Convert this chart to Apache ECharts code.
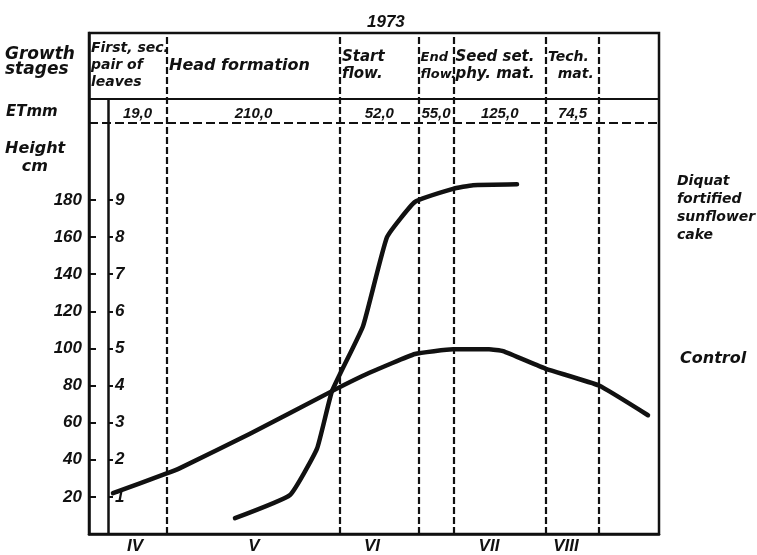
<!DOCTYPE html>
<html>
<head>
<meta charset="utf-8">
<title>Sunflower height, 1973</title>
<script src="https://cdn.jsdelivr.net/npm/echarts@6/dist/echarts.min.js"></script>
<style>
  html, body { margin: 0; padding: 0; background: #fff; }
  #chart { width: 757px; height: 555px; }
</style>
</head>
<body>
<div id="chart"></div>
<script>
// Season axis: x runs in days across the season, y is plant height in cm.
const monthNames = ['IV', 'V', 'VI', 'VII', 'VIII'];
const monthPos = [11.5, 41.25, 70.75, 100, 119.25];

// Growth stages and their boundaries along the season axis
const stageNames = ['First, sec.\npair of\nleaves', 'Head formation', 'Start\nflow.', 'End\nflow.', 'Seed set.\nphy. mat.', 'Tech.\n  mat.', ''];
const stageBounds = [0, 19.5, 62.75, 82.4, 91.1, 114.25, 127.5, 142.5];

// Evapotranspiration (mm) per stage row
const etBounds = [0, 4.75, 19.5, 62.75, 82.4, 91.1, 114.25, 127.5, 142.5];
const etValues = [null, 19.0, 210.0, 52.0, 55.0, 125.0, 74.5, null];

// Height scale ticks and the secondary 1..9 scale
const heightTicks = [20, 40, 60, 80, 100, 120, 140, 160, 180];

// Plant height, cm
const diquatData = [[36.5, 8.5], [50.25, 21], [57, 46], [60.75, 77], [68.5, 112], [74.5, 160], [81.5, 179], [91, 186], [96, 188], [107, 188.5]];
const controlData = [[6, 22], [19.25, 32.5], [22.75, 35.5], [40.25, 54], [60.75, 77], [70.25, 87], [81.5, 97], [91, 99.5], [100, 99.5], [103.5, 98.5], [114.25, 89], [127.5, 80], [139.75, 64]];

// Header table lines (in height units, above the plotted range)
const headerTop = 270;
const headerSplit = 234.6;
const etLine = 221.7;
const scaleAxisX = 4.75;

const INK = '#111';
const FONT = 'DejaVu Sans';
const NUM_FONT = 'Liberation Sans';
const txt = (size, family) => ({ color: INK, opacity: 1, fontFamily: family || FONT, fontStyle: 'italic', fontWeight: 'bold', fontSize: size });

// narrow columns get a smaller lettering size
const stageFontSize = [14, 16, 15, 13, 15, 14];

const chart = echarts.init(document.getElementById('chart'), null, { renderer: 'canvas' });

const dividerLines = stageBounds.slice(1, -1).map(x => ({
  xAxis: x,
  lineStyle: { color: INK, width: 2.2, type: [7, 3] }
}));

const stageLabels = stageNames.map((name, i) => ({
  name: name,
  value: [stageBounds[i], (headerTop + headerSplit) / 2],
  label: { fontSize: stageFontSize[i] }
})).filter(d => d.name);

const etLabels = etValues.map((v, i) => ({
  name: v === null ? '' : v.toFixed(1).replace('.', ','),
  value: [(etBounds[i] + etBounds[i + 1]) / 2, (headerSplit + etLine) / 2]
})).filter(d => d.name);

const option = {
  animation: false,
  backgroundColor: '#fff',
  title: {
    text: '1973',
    left: 362, top: 9,
    textStyle: txt(17, NUM_FONT)
  },
  grid: {
    left: 89, top: 33, right: 98, bottom: 19,
    show: true, borderColor: INK, borderWidth: 2.5, backgroundColor: 'transparent'
  },
  xAxis: {
    type: 'value', min: 0, max: 142.5,
    axisLine: { show: true, lineStyle: { color: INK, width: 2.5 } },
    axisTick: { show: false },
    splitLine: { show: false },
    axisLabel: {
      customValues: monthPos,
      formatter: (v) => monthNames[monthPos.indexOf(v)] || '',
      margin: 4,
      ...txt(17, NUM_FONT)
    }
  },
  yAxis: [
    {
      type: 'value', min: 0, max: headerTop, position: 'left',
      axisLine: { show: true, lineStyle: { color: INK, width: 2.5 } },
      axisTick: { show: true, inside: true, length: 7, customValues: heightTicks, lineStyle: { color: INK, width: 2 } },
      axisLabel: { customValues: heightTicks, margin: 7, ...txt(17, NUM_FONT) },
      splitLine: { show: false }
    },
    {
      type: 'value', min: 0, max: headerTop, position: 'left', offset: -19,
      axisLine: { show: false },
      axisTick: { show: true, inside: true, length: 5, customValues: heightTicks, lineStyle: { color: INK, width: 2 } },
      axisLabel: { customValues: heightTicks, inside: true, margin: 7, formatter: (v) => String(v / 20), ...txt(17, NUM_FONT) },
      splitLine: { show: false }
    }
  ],
  series: [
    {
      type: 'line', name: 'table', data: [], silent: true,
      markLine: {
        silent: true, symbol: 'none', label: { show: false },
        data: [
          ...dividerLines,
          { yAxis: headerSplit, lineStyle: { color: INK, width: 2.2, type: 'solid' } },
          { yAxis: etLine, lineStyle: { color: INK, width: 2.2, type: [9, 4] } },
          [
            { coord: [scaleAxisX, 0], lineStyle: { color: INK, width: 2.5, type: 'solid' } },
            { coord: [scaleAxisX, headerSplit] }
          ]
        ]
      }
    },
    {
      type: 'scatter', name: 'stages', data: stageLabels, symbolSize: 0, silent: true, clip: false,
      itemStyle: { opacity: 1 },
      label: { show: true, position: 'right', distance: 2, formatter: '{b}', lineHeight: 17, ...txt(15) }
    },
    {
      type: 'scatter', name: 'ET', data: etLabels, symbolSize: 0, silent: true, clip: false,
      itemStyle: { opacity: 1 },
      label: { show: true, position: 'inside', offset: [0, 3], formatter: '{b}', ...txt(15, NUM_FONT) }
    },
    {
      type: 'line', name: 'Diquat fortified sunflower cake', data: diquatData,
      symbol: 'none', smooth: 0.12, z: 5,
      lineStyle: { color: INK, width: 4.5, cap: 'round', join: 'round' }
    },
    {
      type: 'line', name: 'Control', data: controlData,
      symbol: 'none', smooth: 0.12, z: 5,
      lineStyle: { color: INK, width: 4.5, cap: 'round', join: 'round' }
    }
  ],
  graphic: [
    { type: 'text', left: 5, top: 46, style: { text: 'Growth\nstages', lineHeight: 15, fill: INK, font: 'italic bold 17px ' + FONT } },
    { type: 'text', left: 6, top: 105, style: { text: 'ETmm', fill: INK, font: 'italic bold 15px ' + FONT } },
    { type: 'text', left: 5, top: 140, style: { text: 'Height\n   cm', lineHeight: 18, fill: INK, font: 'italic bold 16px ' + FONT } },
    { type: 'text', left: 677, top: 172, style: { text: 'Diquat\nfortified\nsunflower\ncake', lineHeight: 18, fill: INK, font: 'italic bold 14px ' + FONT } },
    { type: 'text', left: 680, top: 351, style: { text: 'Control', fill: INK, font: 'italic bold 16px ' + FONT } }
  ]
};

chart.setOption(option);
</script>
</body>
</html>
